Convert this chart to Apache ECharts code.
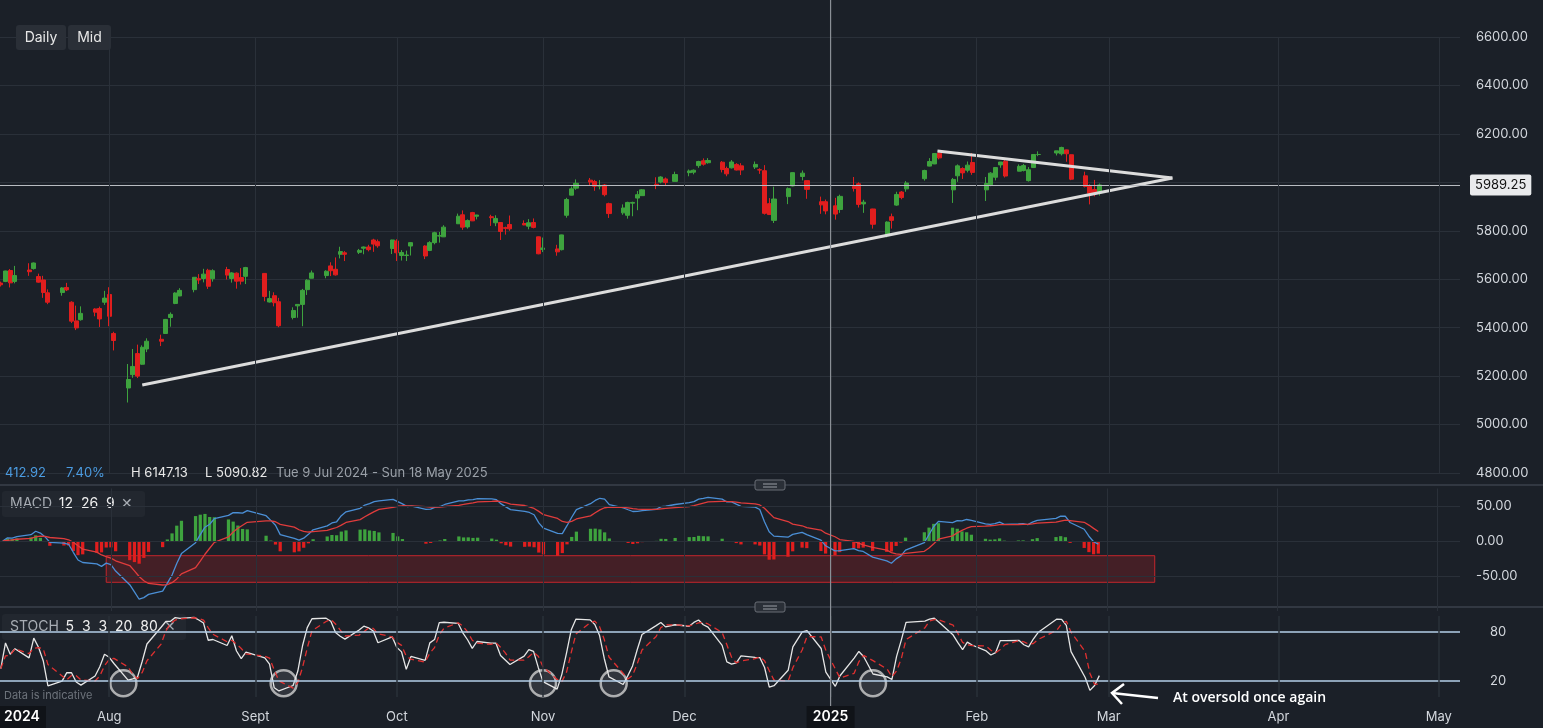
<!DOCTYPE html>
<html>
<head>
<meta charset="utf-8">
<script src="https://cdn.jsdelivr.net/npm/echarts@6/dist/echarts.min.js"></script>
<style>
html,body{margin:0;padding:0;background:#1b2028;}
#main{width:1543px;height:728px;}
</style>
</head>
<body>
<div id="main"></div>
<script>
// daily candles (trading days)
var dates = ['2024-07-09','2024-07-10','2024-07-11','2024-07-12','2024-07-15','2024-07-16','2024-07-17','2024-07-18','2024-07-19','2024-07-22','2024-07-23','2024-07-24','2024-07-25','2024-07-26','2024-07-29','2024-07-30','2024-07-31',
'2024-08-01','2024-08-02','2024-08-05','2024-08-06','2024-08-07','2024-08-08','2024-08-09','2024-08-12','2024-08-13','2024-08-14','2024-08-15','2024-08-16','2024-08-19','2024-08-20','2024-08-21','2024-08-22','2024-08-23','2024-08-26','2024-08-27','2024-08-28','2024-08-29','2024-08-30',
'2024-09-03','2024-09-04','2024-09-05','2024-09-06','2024-09-09','2024-09-10','2024-09-11','2024-09-12','2024-09-13','2024-09-16','2024-09-17','2024-09-18','2024-09-19','2024-09-20','2024-09-23','2024-09-24','2024-09-25','2024-09-26','2024-09-27','2024-09-30',
'2024-10-01','2024-10-02','2024-10-03','2024-10-04','2024-10-07','2024-10-08','2024-10-09','2024-10-10','2024-10-11','2024-10-14','2024-10-15','2024-10-16','2024-10-17','2024-10-18','2024-10-21','2024-10-22','2024-10-23','2024-10-24','2024-10-25','2024-10-28','2024-10-29','2024-10-30','2024-10-31',
'2024-11-01','2024-11-04','2024-11-05','2024-11-06','2024-11-07','2024-11-08','2024-11-11','2024-11-12','2024-11-13','2024-11-14','2024-11-15','2024-11-18','2024-11-19','2024-11-20','2024-11-21','2024-11-22','2024-11-25','2024-11-26','2024-11-27','2024-11-29',
'2024-12-02','2024-12-03','2024-12-04','2024-12-05','2024-12-06','2024-12-09','2024-12-10','2024-12-11','2024-12-12','2024-12-13','2024-12-16','2024-12-17','2024-12-18','2024-12-19','2024-12-20','2024-12-23','2024-12-24','2024-12-26','2024-12-27','2024-12-30','2024-12-31',
'2025-01-02','2025-01-03','2025-01-06','2025-01-07','2025-01-08','2025-01-10','2025-01-13','2025-01-14','2025-01-15','2025-01-16','2025-01-17','2025-01-21','2025-01-22','2025-01-23','2025-01-24','2025-01-27','2025-01-28','2025-01-29','2025-01-30','2025-01-31',
'2025-02-03','2025-02-04','2025-02-05','2025-02-06','2025-02-07','2025-02-10','2025-02-11','2025-02-12','2025-02-13','2025-02-14','2025-02-18','2025-02-19','2025-02-20','2025-02-21','2025-02-24','2025-02-25','2025-02-26','2025-02-27'];

var opens = [5584,5591,5636,5591,5638,5644,5611,5597,5544,5545,5566,5505,5428,5433,5477,5479,5505,
5537,5376,5151,5206,5293,5249,5312,5352,5376,5442,5500,5531,5557,5602,5603,5637,5602,5640,5603,5625,5607,5612,
5624,5506,5532,5507,5442,5490,5496,5557,5604,5615,5655,5641,5703,5709,5711,5728,5733,5762,5755,5727,
5758,5698,5698,5737,5737,5719,5751,5778,5775,5829,5866,5816,5875,5860,5858,5833,5834,5813,5826,5830,5819,5834,5775,
5723,5725,5722,5864,5947,5976,6009,6003,5985,5989,5912,5874,5864,5914,5935,5945,5992,6001,6014,6004,
6040,6042,6069,6089,6081,6083,6057,6060,6074,6068,6063,6052,6048,5912,5843,5941,5985,6024,6007,5920,5920,
5903,5888,5983,5994,5911,5890,5782,5858,5906,5960,5973,6015,6067,6076,6120,5969,6027,6057,6050,6082,
5969,5990,6021,6072,6087,6046,6049,6007,6061,6115,6121,6118,6134,6114,6027,5983,5970,5956];

var closes = [5577,5634,5585,5615,5631,5667,5588,5545,5505,5564,5556,5427,5399,5459,5464,5436,5522,
5447,5347,5186,5240,5200,5319,5344,5344,5434,5455,5543,5554,5608,5597,5621,5571,5635,5617,5626,5592,5592,5648,
5529,5520,5503,5408,5471,5496,5554,5596,5626,5633,5635,5618,5714,5703,5719,5733,5722,5745,5738,5762,
5709,5710,5700,5751,5696,5751,5792,5780,5815,5860,5815,5842,5841,5865,5854,5851,5797,5810,5808,5824,5833,5814,5705,
5729,5713,5783,5929,5973,5996,6001,5984,5985,5949,5871,5894,5917,5917,5949,5969,5987,6022,5999,6032,
6047,6050,6086,6075,6090,6053,6035,6084,6051,6051,6074,6051,5872,5867,5931,5974,6040,6038,5971,5907,5882,
5869,5942,5975,5909,5918,5827,5836,5843,5950,5937,5997,6049,6086,6119,6101,6012,6068,6039,6071,6041,
5995,6038,6061,6084,6026,6066,6069,6052,6115,6115,6130,6144,6118,6013,5983,5955,5956,5989.25];

var lows = [5570,5588,5566,5583,5614,5640,5586,5523,5497,5532,5551,5419,5390,5429,5447,5403,5494,
5406,5306,5091,5193,5192,5247,5299,5324,5376,5404,5497,5530,5546,5580,5587,5560,5590,5599,5586,5561,5578,5580,
5509,5504,5488,5402,5434,5441,5406,5535,5604,5604,5613,5615,5686,5675,5704,5703,5715,5713,5730,5704,
5675,5677,5675,5698,5683,5716,5744,5751,5774,5829,5804,5809,5840,5847,5820,5819,5762,5784,5800,5823,5806,5810,5703,
5712,5697,5719,5854,5946,5969,5986,5965,5971,5942,5853,5866,5850,5860,5885,5944,5972,5996,5985,6004,
6025,6033,6060,6069,6077,6041,6025,6057,6049,6030,6055,6035,5867,5866,5832,5910,5983,6008,5932,5870,5868,
5846,5874,5962,5896,5874,5809,5773,5809,5903,5930,5961,6007,6066,6075,6095,5915,6002,6014,6041,6031,
5923,5984,6008,6060,6020,6046,6045,6003,6059,6108,6111,6111,6085,6009,5979,5909,5942,5945];

var highs = [5590,5635,5642,5655,5666,5669,5623,5614,5558,5567,5585,5509,5491,5488,5480,5487,5552,
5567,5383,5250,5312,5330,5327,5356,5371,5436,5463,5546,5563,5608,5621,5643,5643,5641,5651,5629,5628,5646,5651,
5625,5552,5546,5523,5484,5497,5560,5600,5636,5637,5670,5690,5734,5716,5725,5735,5742,5767,5764,5763,
5765,5720,5718,5753,5740,5757,5796,5795,5823,5871,5884,5847,5878,5866,5866,5864,5835,5817,5863,5843,5848,5851,5776,
5772,5742,5784,5936,5983,6012,6018,6010,6009,5993,5916,5909,5920,5920,5964,5972,6021,6025,6020,6044,
6053,6053,6089,6099,6100,6088,6065,6092,6079,6079,6086,6058,6071,5935,5982,5979,6041,6049,6007,5941,5929,
5936,5949,6022,6000,5928,5891,5839,5871,5961,5964,6005,6052,6100,6119,6128,6018,6074,6062,6086,6121,
6022,6042,6062,6084,6101,6074,6076,6063,6116,6128,6130,6147,6135,6115,6044,5992,6010,5995];

// month divider positions (future months sit a little later on this platform's axis)
var monthStarts = ['2024-08-01','2024-09-01','2024-10-01','2024-11-01','2024-12-01','2025-01-01','2025-02-01','2025-03-01','2025-04-06','2025-05-10'];
var monthLabels = ['Aug','Sept','Oct','Nov','Dec','2025','Feb','Mar','Apr','May'];
var priceTicks = [4800, 6600, 200];
var macdTicks = [50, 0, -50];
var lastPrice = 5989.25;
var lowerTrend = [['2024-08-08', 5163], ['2025-03-14 12:00', 6018]];
var upperTrend = [['2025-01-23 16:00', 6129], ['2025-03-14 12:00', 6018]];
var oversoldMarks = ['2024-08-04','2024-09-07','2024-11-01','2024-11-16','2025-01-10'];
var oversoldLevel = 17;

// indicators from the closes
function ema(arr, n){
    var k = 2/(n+1), out = [], prev = arr[0];
    for(var i = 0; i < arr.length; i++){
        prev = i == 0 ? arr[0] : arr[i]*k + prev*(1-k);
        out.push(prev);
    }
    return out;
}
function sma(arr, n){
    var out = [];
    for(var i = 0; i < arr.length; i++){
        var s = 0, c = 0;
        for(var j = Math.max(0, i-n+1); j <= i; j++){ s += arr[j]; c++; }
        out.push(s/c);
    }
    return out;
}
var e12 = ema(closes, 12), e26 = ema(closes, 26);
var macd = [];
for(var i = 0; i < closes.length; i++){ macd.push(e12[i]-e26[i]); }
var signal = ema(macd, 9);
var rawK = [];
for(var i = 0; i < closes.length; i++){
    var hh = -1e9, ll = 1e9;
    for(var j = Math.max(0, i-4); j <= i; j++){ hh = Math.max(hh, highs[j]); ll = Math.min(ll, lows[j]); }
    rawK.push((closes[i]-ll)/(hh-ll)*100);
}
var kLine = sma(rawK, 3), dLine = sma(kLine, 3);

var candleData = [], macdData = [], sigData = [], histData = [], kData = [], dData = [];
for(var i = 0; i < dates.length; i++){
    candleData.push([dates[i], opens[i], closes[i], lows[i], highs[i]]);
    macdData.push([dates[i], macd[i]]);
    sigData.push([dates[i], signal[i]]);
    var h = macd[i]-signal[i];
    histData.push({value: [dates[i], h], itemStyle: {color: h >= 0 ? '#3ea33e' : '#e01e1e'}});
    kData.push([dates[i], kLine[i]]);
    dData.push([dates[i], dLine[i]]);
}

var GREEN = '#3ea33e', RED = '#e01e1e', GRIDC = '#2a3039', TXT = '#d3d7dd';
var xMin = '2024-07-08 20:00', xMax = '2025-05-14 12:00';

function xAx(idx){
    return {type: 'time', gridIndex: idx, min: xMin, max: xMax,
        axisLine: {show: false}, axisTick: {show: false}, axisLabel: {show: false}, splitLine: {show: false}};
}
var vLines = monthStarts.map(function(d){ return {xAxis: d}; });

var option = {
    backgroundColor: '#1b2028',
    animation: false,
    grid: [
        {left: 0, right: 83, top: 37, height: 436},
        {left: 0, right: 83, top: 488.5, height: 122.5},
        {left: 0, right: 83, top: 616, height: 81}
    ],
    xAxis: [xAx(0), xAx(1), xAx(2)],
    yAxis: [
        {gridIndex: 0, position: 'right', min: priceTicks[0], max: priceTicks[1], interval: priceTicks[2],
            axisLine: {show: false}, axisTick: {show: false},
            axisLabel: {color: TXT, fontSize: 13, margin: 16, fontFamily: 'Inter', formatter: function(v){ return v.toFixed(2); }},
            splitLine: {lineStyle: {color: GRIDC}}},
        {gridIndex: 1, position: 'right', min: -100, max: 75, interval: 25,
            axisLine: {show: false}, axisTick: {show: false},
            axisLabel: {color: TXT, fontSize: 13, margin: 16, fontFamily: 'Inter', formatter: function(v){ return macdTicks.indexOf(v) >= 0 ? v.toFixed(2) : ''; }},
            splitLine: {show: false}},
        {gridIndex: 2, position: 'right', min: 0, max: 100, interval: 20,
            axisLine: {show: false}, axisTick: {show: false},
            axisLabel: {color: TXT, fontSize: 13, margin: 30, fontFamily: 'Inter', formatter: function(v){ return (v == 20 || v == 80) ? v : ''; }},
            splitLine: {show: false}}
    ],
    series: [
        {type: 'candlestick', xAxisIndex: 0, yAxisIndex: 0, data: candleData, barMaxWidth: 5,
            itemStyle: {color: GREEN, color0: RED, borderColor: GREEN, borderColor0: RED, borderWidth: 1},
            markLine: {silent: true, symbol: 'none',
                data: [{yAxis: lastPrice}].concat(vLines.map(function(v){ return {xAxis: v.xAxis, label: {show: false}, lineStyle: {color: GRIDC, type: 'solid'}}; })),
                lineStyle: {color: '#b9bcc2', type: 'solid', width: 1},
                label: {position: 'end', formatter: lastPrice.toFixed(2), backgroundColor: '#e9eaec', color: '#111',
                    fontSize: 13, padding: [4, 5], borderRadius: 2, fontFamily: 'Inter', distance: 10}}},
        {type: 'line', xAxisIndex: 0, yAxisIndex: 0, data: lowerTrend, symbol: 'none', lineStyle: {color: '#dcdcdc', width: 3}},
        {type: 'line', xAxisIndex: 0, yAxisIndex: 0, data: upperTrend, symbol: 'none', lineStyle: {color: '#dcdcdc', width: 3}},
        {type: 'bar', xAxisIndex: 1, yAxisIndex: 1, data: histData, barMaxWidth: 4,
            markLine: {silent: true, symbol: 'none', label: {show: false}, lineStyle: {color: GRIDC, type: 'solid', width: 1},
                data: vLines.concat(macdTicks.map(function(t){ return {yAxis: t}; }))}},
        {type: 'line', xAxisIndex: 1, yAxisIndex: 1, data: macdData, symbol: 'none', lineStyle: {color: '#4b8fd6', width: 1.3},
            markArea: {silent: true, itemStyle: {color: 'rgba(110,30,36,0.5)', borderColor: '#c3262c', borderWidth: 1},
                data: [[{xAxis: '2024-07-31', yAxis: -21}, {xAxis: '2025-03-11', yAxis: -59}]]}},
        {type: 'line', xAxisIndex: 1, yAxisIndex: 1, data: sigData, symbol: 'none', lineStyle: {color: '#e03c3c', width: 1.3}},
        {type: 'line', xAxisIndex: 2, yAxisIndex: 2, data: kData, symbol: 'none', lineStyle: {color: '#e6e6e6', width: 1.3},
            markLine: {silent: true, symbol: 'none', label: {show: false},
                data: [{yAxis: 80}, {yAxis: 20}].concat(vLines.map(function(v){ return {xAxis: v.xAxis, lineStyle: {color: GRIDC}}; })),
                lineStyle: {color: '#b4cfe8', type: 'solid', width: 1.5}}},
        {type: 'line', xAxisIndex: 2, yAxisIndex: 2, data: dData, symbol: 'none', lineStyle: {color: '#e03030', width: 1.3, type: [6, 4]}},
        {type: 'scatter', xAxisIndex: 2, yAxisIndex: 2, data: oversoldMarks.map(function(d){ return [d, oversoldLevel]; }),
            symbolSize: 26, itemStyle: {color: 'rgba(255,255,255,0.12)', borderColor: '#cfcfcf', borderWidth: 2.5}}
    ]
};

var myChart = echarts.init(document.getElementById('main'));
myChart.setOption(option);

// overlay text and decorations
var g = [];
var by = 717;
for(var i = 0; i < monthStarts.length; i++){
    var px = myChart.convertToPixel({xAxisIndex: 2}, monthStarts[i]);
    if(monthLabels[i] == '2025'){
        g.push({type: 'rect', shape: {x: px - 24, y: by - 11, width: 48, height: 22}, style: {fill: '#101318'}});
        g.push({type: 'text', x: px, y: by, style: {text: '2025', fill: '#fff', font: '600 14px Inter', align: 'center', verticalAlign: 'middle'}});
    } else {
        g.push({type: 'text', x: px, y: by, style: {text: monthLabels[i], fill: TXT, font: '13px Inter', align: 'center', verticalAlign: 'middle'}});
    }
}
g.push({type: 'rect', shape: {x: 0, y: by - 11, width: 46, height: 22}, style: {fill: '#101318'}});
g.push({type: 'text', x: 4, y: by, style: {text: '2024', fill: '#fff', font: '600 14px Inter', verticalAlign: 'middle'}});
// crosshair at new year
var cx = myChart.convertToPixel({xAxisIndex: 0}, '2025-01-01');
g.push({type: 'line', shape: {x1: cx, y1: 0, x2: cx, y2: 706}, style: {stroke: '#8a8f96', lineWidth: 1.2}, z: 5});
// pane separators
[485, 607].forEach(function(y){
    g.push({type: 'line', shape: {x1: 0, y1: y, x2: 1543, y2: y}, style: {stroke: '#3b414b', lineWidth: 1.5}});
    g.push({type: 'rect', shape: {x: 755, y: y - 5, width: 30, height: 10, r: 2}, style: {fill: '#2a2f37', stroke: '#6a6f77', lineWidth: 1}});
    g.push({type: 'line', shape: {x1: 763, y1: y - 1, x2: 777, y2: y - 1}, style: {stroke: '#9a9fa6', lineWidth: 1}});
    g.push({type: 'line', shape: {x1: 763, y1: y + 2, x2: 777, y2: y + 2}, style: {stroke: '#9a9fa6', lineWidth: 1}});
});
// buttons
g.push({type: 'rect', shape: {x: 16, y: 25, width: 50, height: 25, r: 3}, style: {fill: '#2a2f37'}});
g.push({type: 'text', x: 41, y: 37.5, style: {text: 'Daily', fill: '#e8e8e8', font: '14px Inter', align: 'center', verticalAlign: 'middle'}});
g.push({type: 'rect', shape: {x: 68, y: 25, width: 43, height: 25, r: 3}, style: {fill: '#2a2f37'}});
g.push({type: 'text', x: 89.5, y: 37.5, style: {text: 'Mid', fill: '#e8e8e8', font: '14px Inter', align: 'center', verticalAlign: 'middle'}});
// info row
g.push({type: 'text', x: 5, y: 473, style: {text: '412.92', fill: '#4b9be0', font: '13px Inter', verticalAlign: 'middle'}});
g.push({type: 'text', x: 66, y: 473, style: {text: '7.40%', fill: '#4b9be0', font: '13px Inter', verticalAlign: 'middle'}});
g.push({type: 'text', x: 131, y: 473, style: {text: 'H 6147.13', fill: '#e8e8e8', font: '13px Inter', verticalAlign: 'middle'}});
g.push({type: 'text', x: 205, y: 473, style: {text: 'L 5090.82', fill: '#e8e8e8', font: '13px Inter', verticalAlign: 'middle'}});
g.push({type: 'text', x: 276, y: 473, style: {text: 'Tue 9 Jul 2024 - Sun 18 May 2025', fill: '#9aa0a8', font: '13px Inter', verticalAlign: 'middle'}});
// legends
g.push({type: 'rect', shape: {x: 2, y: 491, width: 143, height: 26, r: 3}, style: {fill: '#22272f'}});
g.push({type: 'text', x: 10, y: 504, style: {text: '{a|MACD}  {b|12  26  9}  {a|✕}', verticalAlign: 'middle',
    rich: {a: {fill: '#a8adb4', font: '14px Inter'}, b: {fill: '#f0f0f0', font: '14px Inter'}}}});
g.push({type: 'rect', shape: {x: 2, y: 614, width: 184, height: 26, r: 3}, style: {fill: '#22272f'}});
g.push({type: 'text', x: 10, y: 627, style: {text: '{a|STOCH}  {b|5  3  3  20  80}  {a|✕}', verticalAlign: 'middle',
    rich: {a: {fill: '#a8adb4', font: '14px Inter'}, b: {fill: '#f0f0f0', font: '14px Inter'}}}});
g.push({type: 'text', x: 4, y: 696, style: {text: 'Data is indicative', fill: '#6d737b', font: '11px Inter', verticalAlign: 'middle'}});
// annotation
g.push({type: 'polyline', shape: {points: [[1158, 698], [1112, 693]]}, style: {stroke: '#fff', lineWidth: 2.5}, z: 10});
g.push({type: 'polyline', shape: {points: [[1124, 684], [1112, 693], [1122, 704]]}, style: {stroke: '#fff', lineWidth: 2.5, fill: null}, z: 10});
g.push({type: 'text', x: 1173, y: 698, style: {text: 'At oversold once again', fill: '#fff', font: '600 14px "Open Sans"', verticalAlign: 'middle'}, z: 10});
myChart.setOption({graphic: g});
</script>
</body>
</html>
